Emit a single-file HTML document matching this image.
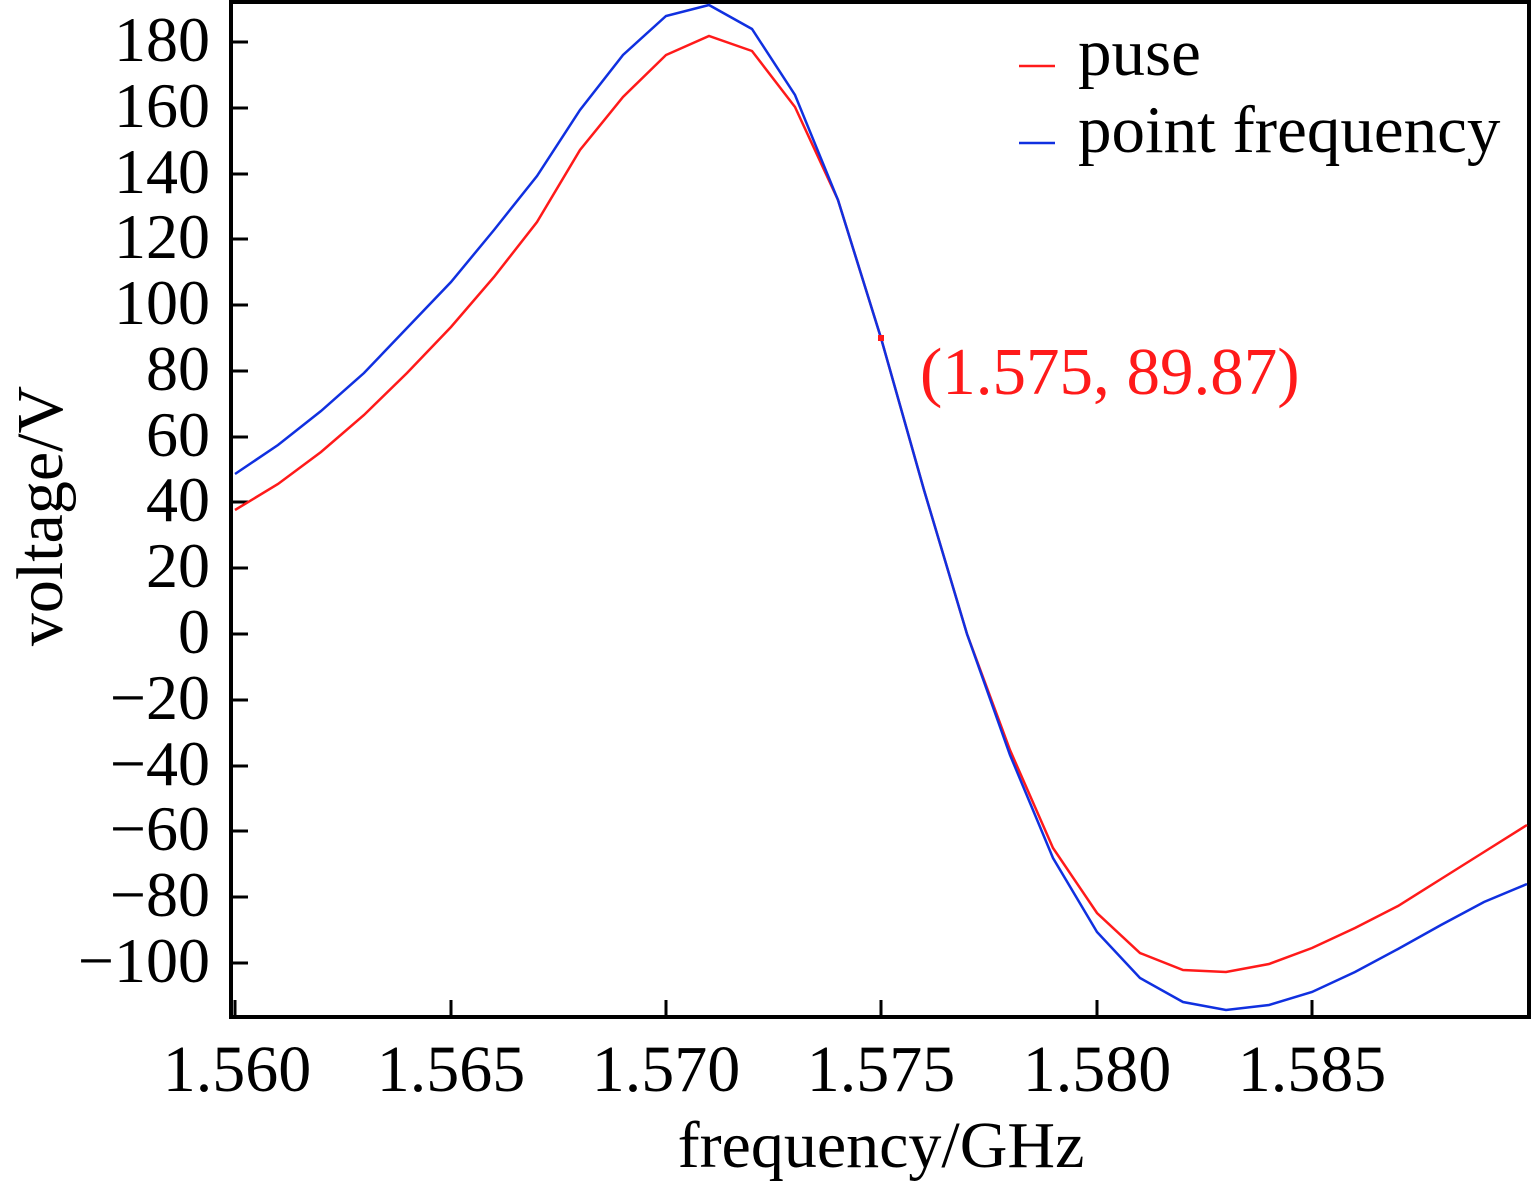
<!DOCTYPE html>
<html><head><meta charset="utf-8"><style>html,body{margin:0;padding:0;background:#fff}svg{display:block}</style></head>
<body>
<svg width="1535" height="1189" viewBox="0 0 1535 1189" xmlns="http://www.w3.org/2000/svg" font-family="Liberation Serif, serif">
<rect width="1535" height="1189" fill="#fff"/>
<g stroke="#000" stroke-width="3">
<line x1="231" y1="42" x2="248" y2="42"/><line x1="231" y1="108" x2="248" y2="108"/><line x1="231" y1="174" x2="248" y2="174"/><line x1="231" y1="239" x2="248" y2="239"/><line x1="231" y1="305" x2="248" y2="305"/><line x1="231" y1="371" x2="248" y2="371"/><line x1="231" y1="437" x2="248" y2="437"/><line x1="231" y1="502" x2="248" y2="502"/><line x1="231" y1="568" x2="248" y2="568"/><line x1="231" y1="634" x2="248" y2="634"/><line x1="231" y1="700" x2="248" y2="700"/><line x1="231" y1="766" x2="248" y2="766"/><line x1="231" y1="831" x2="248" y2="831"/><line x1="231" y1="897" x2="248" y2="897"/><line x1="231" y1="963" x2="248" y2="963"/>
<line x1="235" y1="1017" x2="235" y2="1000"/><line x1="451" y1="1017" x2="451" y2="1000"/><line x1="666" y1="1017" x2="666" y2="1000"/><line x1="881" y1="1017" x2="881" y2="1000"/><line x1="1097" y1="1017" x2="1097" y2="1000"/><line x1="1312" y1="1017" x2="1312" y2="1000"/>
</g>
<rect x="231" y="2" width="1298" height="1015" fill="none" stroke="#000" stroke-width="4"/>
<g font-size="64" text-anchor="end" fill="#000">
<text x="210" y="61">180</text><text x="210" y="127">160</text><text x="210" y="193">140</text><text x="210" y="258">120</text><text x="210" y="324">100</text><text x="210" y="390">80</text><text x="210" y="456">60</text><text x="210" y="521">40</text><text x="210" y="587">20</text><text x="210" y="653">0</text><text x="210" y="719">−20</text><text x="210" y="785">−40</text><text x="210" y="850">−60</text><text x="210" y="916">−80</text><text x="210" y="982">−100</text>
</g>
<g font-size="66" text-anchor="middle" fill="#000">
<text x="237" y="1091">1.560</text><text x="451" y="1091">1.565</text><text x="666" y="1091">1.570</text><text x="881" y="1091">1.575</text><text x="1097" y="1091">1.580</text><text x="1312" y="1091">1.585</text>
<text x="881" y="1167">frequency/GHz</text>
<text transform="translate(62,516) rotate(-90)">voltage/V</text>
</g>
<polyline fill="none" stroke="#ff1a1a" stroke-width="2.5" points="235,510 278,484 321,452 364,415 407,373 451,327 494,277 537,222 580,150 623,97 666,55 709,36 752,51 795,107 838,200 881,338 924,490 967,634 1010,750 1053,848 1097,913 1140,953 1183,970 1226,972 1269,964 1312,948 1355,928 1398,906 1441,879 1484,852 1527,825"/>
<polyline fill="none" stroke="#1030e0" stroke-width="2.5" points="235,474 278,445 321,411 364,373 407,328 451,282 494,230 537,176 580,110 623,55 666,16 709,5 752,29 795,95 838,200 881,338 924,490 967,634 1010,755 1053,858 1097,932 1140,978 1183,1002 1226,1010 1269,1005 1312,992 1355,972 1398,949 1441,925 1484,902 1527,884"/>
<rect x="878" y="335" width="6" height="6" fill="#ff1a1a"/>
<text x="920" y="394" font-size="67" fill="#ff1a1a">(1.575, 89.87)</text>
<line x1="1019" y1="66" x2="1055" y2="66" stroke="#ff1a1a" stroke-width="2.5"/>
<line x1="1019" y1="143" x2="1055" y2="143" stroke="#1030e0" stroke-width="2.5"/>
<text x="1078" y="75" font-size="67" fill="#000">puse</text>
<text x="1078" y="152" font-size="67" fill="#000">point frequency</text>
</svg>
</body></html>
